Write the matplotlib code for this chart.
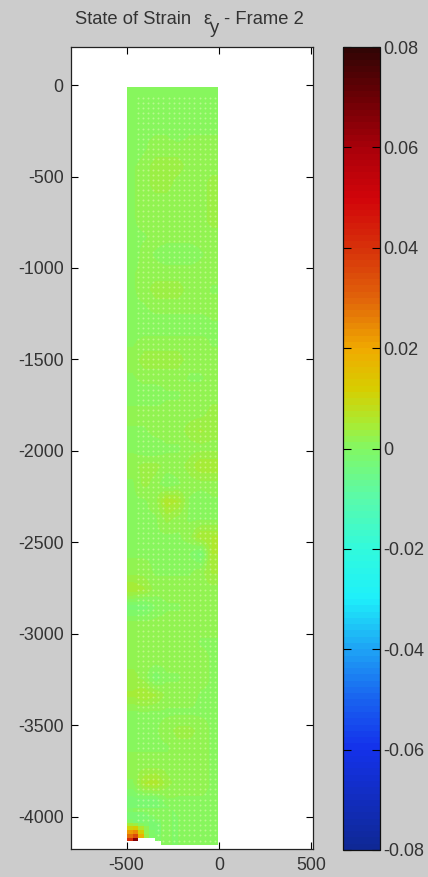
import numpy as np
import matplotlib
matplotlib.use("Agg")
import matplotlib.pyplot as plt
from matplotlib.colors import LinearSegmentedColormap

plt.rcParams['font.family'] = ['Liberation Sans', 'DejaVu Sans']
plt.rcParams['axes.unicode_minus'] = False

title_main = 'State of Strain'
title_symbol = '\u03b5'
title_sub = 'y'
title_tail = '- Frame 2'
x_ticks = [-500, 0, 500]
y_ticks = [0, -500, -1000, -1500, -2000, -2500, -3000, -3500, -4000]
cbar_ticks = [0.08, 0.06, 0.04, 0.02, 0, -0.02, -0.04, -0.06, -0.08]
cbar_labels = ['0.08', '0.06', '0.04', '0.02', '0', '-0.02', '-0.04', '-0.06', '-0.08']

# colour scale
cmap_values = [-0.08, -0.06, -0.05, -0.04, -0.03, -0.02, -0.01, 0, 0.005, 0.012,
               0.02, 0.03, 0.04, 0.05, 0.06, 0.07, 0.08]
cmap_rgb = [(15, 40, 150), (20, 50, 235), (25, 100, 240), (30, 165, 245), (30, 240, 250),
            (50, 250, 220), (90, 250, 170), (130, 248, 100), (170, 235, 50), (215, 205, 0),
            (240, 170, 0), (225, 100, 10), (215, 50, 10), (210, 5, 10), (170, 0, 10),
            (110, 0, 5), (50, 5, 5)]

# strain in units of 0.001, one row per 100 units of depth, left to right
strain_milli = np.array([
    [0, 0, 0, 0, 0, 0, 0, 0],
    [0, 1, 1, 1, 1, 1, 1, 1],
    [0, 1, 1, 1, 0, 1, 1, 1],
    [0, 1, 2, 2, 2, 2, 2, 2],
    [1, 2, 3, 3, 3, 2, 2, 2],
    [1, 2, 3, 3, 2, 2, 2, 3],
    [1, 2, 2, 2, 2, 2, 2, 3],
    [1, 2, 2, 2, 2, 2, 2, 3],
    [1, 1, 2, 2, 2, 2, 2, 2],
    [0, 2, 1, 0, 0, 0, 1, 2],
    [1, 2, 2, 2, 2, 2, 2, 2],
    [1, 2, 3, 3, 3, 2, 2, 1],
    [1, 1, 2, 2, 2, 2, 2, 2],
    [0, 0, 0, 0, 0, 0, 0, 1],
    [1, 2, 2, 2, 2, 2, 2, 1],
    [2, 3, 3, 3, 3, 2, 2, 2],
    [1, 2, 2, 2, 2, 1, 1, 2],
    [0, 0, 0, 1, 1, 2, 2, 2],
    [2, 2, 2, 2, 2, 2, 2, 3],
    [1, 1, 2, 2, 2, 3, 4, 3],
    [1, 0, 0, 1, 1, 2, 2, 2],
    [2, 3, 3, 2, 2, 3, 5, 5],
    [1, 3, 2, 0, 1, 2, 2, 2],
    [1, 1, 2, 6, 5, 1, 0, 1],
    [1, 1, 1, 3, 2, 1, 1, 1],
    [1, 1, 1, 1, 1, 2, 5, 5],
    [1, 1, 1, 1, 1, 0, -2, 5],
    [2, 2, 1, 1, 1, 1, 2, 4],
    [5, 4, 2, 2, 2, 2, 2, 2],
    [-2, -2, 0, 1, 1, 2, 2, 2],
    [2, 2, 2, 2, 2, 2, 2, 2],
    [2, 2, 2, 2, 2, 2, 1, 1],
    [2, 2, 2, 2, 2, 2, 2, 1],
    [3, 2, -1, 1, 1, 2, 2, 1],
    [4, 5, 4, 2, 2, 2, 1, 1],
    [1, 1, 1, 1, 1, 1, 1, 1],
    [1, 1, 1, 2, 3, 3, 2, 1],
    [1, 1, 1, 1, 2, 2, 2, 1],
    [2, 2, 2, 2, 2, 2, 2, 1],
    [1, 5, 6, 3, 2, 2, 2, 1],
    [-2, -2, -2, 1, 1, 1, 1, 1],
    [-2, -2, -2, -2, 0, 1, 1, 1],
    [-1, -1, -1, -1, 0, 0, 0, 0],
], dtype=float)
data_extent = [-495, -5, -4155, -15]

# finer reading of the bottom-left corner, 30 wide and 20 tall per cell
corner_milli = np.array([
    [-1, 0, 1, 1, 1, 1, 1, 1],
    [-2, -2, -2, -1, 1, 1, 1, 1],
    [-2, -2, -2, -2, -1, 0, 1, 1],
    [-1, -2, -2, -1, -2, -1, 0, 1],
    [4, 3, 1, -1, -2, -2, 0, 1],
    [10, 12, 6, 2, -2, -2, 0, 1],
    [22, 24, 12, 2, -1, -2, 0, 1],
    [28, 34, 18, 3, -1, -1, 0, 1],
    [40, 65, np.nan, np.nan, np.nan, -1, 0, 1],
    [np.nan, np.nan, np.nan, np.nan, np.nan, np.nan, 1, 1],
], dtype=float)
corner_extent = [-495, -255, -4155, -3955]

strain_cmap = LinearSegmentedColormap.from_list(
    'strain',
    [((v + 0.08) / 0.16, tuple(c / 255 for c in rgb)) for v, rgb in zip(cmap_values, cmap_rgb)],
    N=128)
corner_cmap = strain_cmap.copy()
corner_cmap.set_bad('white')

fig = plt.figure(figsize=(4.28, 8.77), dpi=100, facecolor='#cccccc')
W, H = 428.0, 877.0
ax = fig.add_axes([70.5 / W, 1 - 849 / H, 242.5 / W, 802 / H])

im = ax.imshow(strain_milli / 1000.0, cmap=strain_cmap, vmin=-0.08, vmax=0.08,
               extent=data_extent, aspect='auto', interpolation='bilinear',
               origin='upper', zorder=1)
ax.imshow(corner_milli / 1000.0, cmap=corner_cmap, vmin=-0.08, vmax=0.08,
          extent=corner_extent, aspect='auto', interpolation='nearest',
          origin='upper', zorder=1.5)
ax.set_xlim(-804, 511)
ax.set_ylim(-4176, 208)

# pale gaps between the measurement points, none inside the corner notch
gx, gy = np.meshgrid(np.arange(-440, 0, 28), np.arange(-4130, -60, 28))
keep = ~((gx < -330) & (gy < -4040))
ax.scatter(gx[keep], gy[keep], s=2.0, c='#f4ffc8', alpha=0.45, linewidths=0, zorder=2)

ax.set_xticks(x_ticks)
ax.set_yticks(y_ticks)
ax.tick_params(direction='in', length=5, width=0.8, top=True, right=True,
               labelsize=12.8, labelcolor='#333333', pad=6)
ax.tick_params(axis='y', pad=5)
for s in ax.spines.values():
    s.set_linewidth(0.9)
    s.set_color('#222222')

def put_text(px, py, txt):
    fig.text(px / W, 1 - py / H, txt, fontsize=13.2, color='#333333', ha='left', va='baseline')

put_text(75, 24, title_main)
put_text(203, 24, title_symbol)
put_text(210, 33, title_sub)
put_text(224, 24, title_tail)

cax = fig.add_axes([343 / W, 1 - 850 / H, 37 / W, 803 / H])
cb = fig.colorbar(im, cax=cax, ticks=cbar_ticks)
cb.ax.set_yticklabels(cbar_labels)
cb.ax.tick_params(direction='in', length=6, width=0.8, left=True, right=True,
                  labelsize=13, labelcolor='#333333', pad=2)
cb.outline.set_linewidth(0.9)
cb.outline.set_edgecolor('#111111')

fig.savefig('out.png', dpi=100, facecolor=fig.get_facecolor())
